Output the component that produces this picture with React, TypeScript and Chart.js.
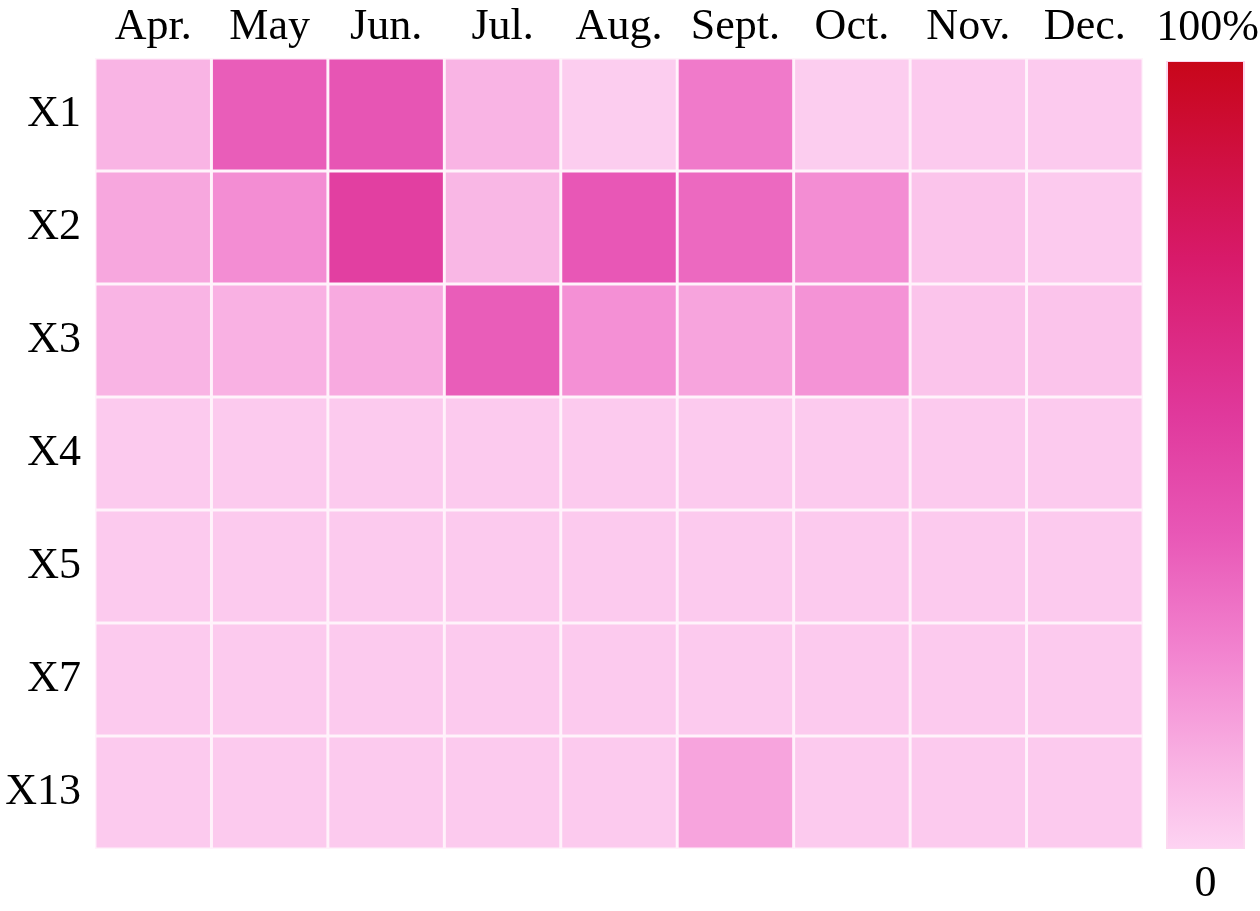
import React, { useEffect, useRef } from "react";
import { Chart, registerables } from "chart.js";

Chart.register(...registerables);

const months = ["Apr.", "May", "Jun.", "Jul.", "Aug.", "Sept.", "Oct.", "Nov.", "Dec."];
const rowLabels = ["X1", "X2", "X3", "X4", "X5", "X7", "X13"];

const x1Values = [0.1, 0.38, 0.41, 0.1, 0.02, 0.28, 0.02, 0.03, 0.03];
const x2Values = [0.14, 0.22, 0.52, 0.09, 0.4, 0.34, 0.22, 0.05, 0.03];
const x3Values = [0.1, 0.11, 0.13, 0.38, 0.21, 0.15, 0.2, 0.05, 0.05];
const x4Values = [0.03, 0.03, 0.03, 0.03, 0.03, 0.03, 0.03, 0.03, 0.03];
const x5Values = [0.03, 0.03, 0.03, 0.03, 0.03, 0.03, 0.03, 0.03, 0.03];
const x7Values = [0.03, 0.03, 0.03, 0.03, 0.03, 0.03, 0.03, 0.03, 0.03];
const x13Values = [0.03, 0.03, 0.03, 0.03, 0.03, 0.15, 0.03, 0.03, 0.03];

const rowValues = [x1Values, x2Values, x3Values, x4Values, x5Values, x7Values, x13Values];

const colorStops: [number, string][] = [
  [0, "#fdd3f2"],
  [0.1, "#f9b4e4"],
  [0.25, "#f283cf"],
  [0.4, "#e857b6"],
  [0.55, "#e0399c"],
  [0.75, "#d81a6a"],
  [1, "#c8061a"],
];

const colorbarLabels = ["100%", "0"];

function hexToRgb(h: string) {
  const n = parseInt(h.slice(1), 16);
  return [(n >> 16) & 255, (n >> 8) & 255, n & 255];
}

function colorFor(v: number) {
  for (let i = 1; i < colorStops.length; i++) {
    const [p1, c1] = colorStops[i];
    const [p0, c0] = colorStops[i - 1];
    if (v <= p1) {
      const t = (v - p0) / (p1 - p0);
      const a = hexToRgb(c0);
      const b = hexToRgb(c1);
      const c = a.map((x, k) => Math.round(x + (b[k] - x) * t));
      return `rgb(${c[0]},${c[1]},${c[2]})`;
    }
  }
  return colorStops[colorStops.length - 1][1];
}

const FONT = "'Liberation Serif', 'Times New Roman', serif";
const FONT_SIZE = 44;

const colorbarPlugin = {
  id: "colorbar",
  afterDraw(chart: any) {
    const { ctx, chartArea } = chart;
    const x0 = chartArea.right + 25;
    const w = 75;
    const top = chartArea.top + 4;
    const bottom = chartArea.bottom - 1;
    ctx.save();
    const g = ctx.createLinearGradient(0, bottom, 0, top);
    colorStops.forEach(([p, c]) => g.addColorStop(p, c));
    ctx.fillStyle = "rgba(250,190,230,0.6)";
    ctx.fillRect(x0 - 2, top - 1, w + 4, bottom - top + 2);
    ctx.fillStyle = g;
    ctx.fillRect(x0, top, w, bottom - top);
    ctx.fillStyle = "#000";
    ctx.font = `${FONT_SIZE}px ${FONT}`;
    ctx.textAlign = "center";
    ctx.textBaseline = "middle";
    ctx.fillText(colorbarLabels[0], x0 + w / 2 + 2, 28);
    ctx.fillText(colorbarLabels[1], x0 + w / 2, bottom + 36);
    ctx.restore();
  },
};

export default function App() {
  const ref = useRef<HTMLCanvasElement>(null);
  useEffect(() => {
    document.body.style.margin = "0";
    const datasets = rowValues.map((vals, i) => ({
      label: rowLabels[i],
      data: vals.map(() => [i, i + 1]),
      backgroundColor: vals.map((v) => colorFor(v)),
      borderColor: "rgba(255,240,250,0.8)",
      borderWidth: 1.8,
      borderSkipped: false,
      grouped: false,
      barPercentage: 1,
      categoryPercentage: 1,
    }));
    const chart = new Chart(ref.current!, {
      type: "bar",
      data: { labels: months, datasets },
      options: {
        animation: false,
        responsive: false,
        layout: { padding: { right: 117, bottom: 62, top: 0, left: 0 } },
        plugins: { legend: { display: false }, tooltip: { enabled: false } },
        scales: {
          x: {
            position: "top",
            grid: { display: false, drawTicks: false },
            border: { display: false },
            ticks: { color: "#000", font: { family: FONT, size: FONT_SIZE }, padding: 4 },
            afterFit: (s: any) => {
              s.height = 58;
            },
          },
          y: {
            type: "linear",
            min: 0,
            max: 7,
            reverse: true,
            grid: { display: false, drawTicks: false },
            border: { display: false },
            afterFit: (s: any) => {
              s.width = 95;
            },
            ticks: {
              stepSize: 0.5,
              autoSkip: false,
              color: "#000",
              padding: 14,
              font: { family: FONT, size: FONT_SIZE },
              callback: (v: any) => {
                const k = Number(v) - 0.5;
                return Number.isInteger(k) && k >= 0 && k < rowLabels.length ? rowLabels[k] : "";
              },
            },
          },
        },
      },
      plugins: [colorbarPlugin],
    } as any);
    return () => chart.destroy();
  }, []);
  return <canvas ref={ref} width={1260} height={911} style={{ display: "block" }} />;
}
